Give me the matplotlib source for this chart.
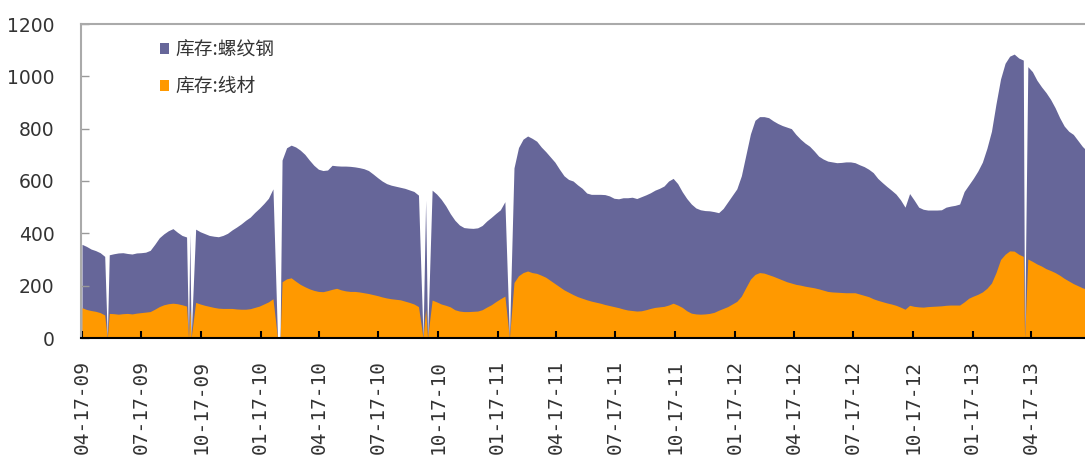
import numpy as np
import pandas as pd
import matplotlib
matplotlib.use("Agg")
import matplotlib.pyplot as plt
import matplotlib.dates as mdates
from matplotlib.patches import Patch

# 周度库存 (万吨), 从 2009-04-17 起每周五
rebar = [358, 350, 340, 334, 326, 312, 318, 322, 325, 326,
         323, 321, 325, 326, 328, 335, 358, 383, 398, 410,
         418, 404, 392, 386, 0, 416, 406, 399, 392, 389,
         387, 392, 400, 413, 424, 436, 450, 462, 480, 496,
         514, 534, 570, 0, 680, 727, 737, 730, 718, 702,
         680, 660, 645, 640, 642, 660, 658, 657, 657, 656,
         654, 651, 647, 640, 627, 613, 600, 590, 584, 580,
         576, 572, 566, 560, 546, 0, 0, 565, 550, 530,
         505, 475, 450, 432, 422, 420, 419, 421, 430, 447,
         461, 476, 490, 521, 0, 650, 728, 760, 772, 763,
         752, 730, 712, 692, 672, 645, 620, 606, 600, 585,
         572, 554, 549, 549, 549, 548, 543, 534, 532, 536,
         536, 538, 533, 540, 547, 555, 565, 572, 581, 600,
         610, 590, 559, 533, 512, 497, 490, 487, 486, 483,
         479, 495, 520, 545, 570, 620, 700, 780, 832, 846,
         846, 842, 830, 820, 812, 806, 800, 778, 760, 745,
         733, 715, 695, 684, 676, 673, 670, 671, 673, 673,
         670, 662, 655, 645, 632, 610, 594, 579, 565, 550,
         528, 500, 552, 527, 500, 492, 489, 489, 489, 490,
         500, 504, 507, 512, 560, 585, 610, 638, 672, 725,
         790, 895, 990, 1050, 1077, 1085, 1070, 1062, 1037, 1018,
         985, 960, 938, 912, 880, 842, 810, 790, 778, 755,
         732, 715]

wire = [116, 109, 105, 102, 97, 88, 94, 93, 91, 93,
        94, 92, 95, 97, 99, 101, 110, 120, 127, 131,
        133, 131, 127, 122, 0, 136, 130, 125, 121, 117,
        114, 113, 113, 113, 111, 110, 110, 112, 117, 122,
        130, 138, 150, 0, 215, 226, 230, 217, 205, 196,
        188, 182, 178, 177, 181, 186, 190, 184, 180, 178,
        178, 176, 173, 170, 166, 162, 157, 153, 150, 148,
        146, 141, 136, 130, 120, 0, 0, 145, 138, 130,
        125, 119, 108, 103, 101, 101, 102, 103, 108, 118,
        127, 139, 150, 160, 0, 212, 238, 250, 256, 250,
        247, 240, 232, 220, 208, 196, 184, 175, 166, 158,
        152, 146, 141, 137, 133, 128, 124, 120, 116, 111,
        107, 105, 103, 104, 108, 113, 117, 119, 121, 126,
        133, 126, 117, 104, 95, 92, 91, 92, 94, 98,
        106, 113, 120, 130, 140, 160, 193, 225, 243, 250,
        248, 242, 236, 229, 222, 215, 210, 205, 202, 198,
        195, 192, 188, 183, 178, 176, 175, 174, 173, 173,
        173, 168, 163, 158, 150, 144, 139, 134, 130, 125,
        118, 110, 125, 121, 119, 118, 120, 121, 122, 123,
        125, 126, 126, 126, 138, 152, 160, 167, 176, 190,
        210, 250, 300, 320, 333, 332, 320, 312, 302, 293,
        283, 275, 265, 258, 250, 240, 228, 218, 208, 200,
        192, 186]

# 节假日前后的非周五数据
extra_dates = ['2009-05-26', '2009-09-28', '2009-09-30', '2010-02-16', '2010-09-28', '2013-04-07']
extra_rebar = [0, 0, 400, 0, 527, 0]
extra_wire = [0, 0, 110, 0, 110, 0]

tick_dates = pd.date_range('2009-04-01', '2013-04-01', freq='3MS') + pd.Timedelta(days=16)

weekly = pd.DataFrame({'date': pd.date_range('2009-04-17', periods=len(rebar), freq='7D'),
                       'rebar': rebar, 'wire': wire})
extra = pd.DataFrame({'date': pd.to_datetime(extra_dates), 'rebar': extra_rebar, 'wire': extra_wire})
df = pd.concat([weekly, extra]).sort_values('date').reset_index(drop=True)

purple = '#666699'
orange = '#ff9900'

fig = plt.figure(figsize=(10.85, 4.55), dpi=100)
ax = fig.add_axes([81 / 1085, 117 / 455, 1 - 81 / 1085, 314 / 455])

ax.fill_between(df['date'], 0, df['rebar'], color=purple, lw=0)
ax.fill_between(df['date'], 0, df['wire'], color=orange, lw=0)

ax.set_ylim(0, 1200)
ax.set_yticks(range(0, 1201, 200))
ax.set_xlim(pd.Timestamp('2009-04-15 12:00'), pd.Timestamp('2013-07-09'))
ax.set_xticks(tick_dates)
ax.xaxis.set_major_formatter(mdates.DateFormatter('%m-%d-%y'))

for lab in ax.get_xticklabels():
    lab.set_rotation(90)
    lab.set_family('DejaVu Sans Mono')
    lab.set_fontsize(14)
    lab.set_color('#333333')
for lab in ax.get_yticklabels():
    lab.set_fontsize(13.5)
    lab.set_color('#333333')

ax.tick_params(axis='x', direction='in', length=5, width=1.5, color='black', pad=16)
ax.tick_params(axis='y', direction='in', length=6, width=1, color='#999999', pad=19)

ax.spines['right'].set_visible(False)
ax.spines['top'].set_color('#aaaaaa')
ax.spines['top'].set_linewidth(1.5)
ax.spines['left'].set_color('#aaaaaa')
ax.spines['left'].set_linewidth(1.5)
ax.spines['bottom'].set_color('black')
ax.spines['bottom'].set_linewidth(1.5)

handles = [Patch(facecolor=purple, label='库存:螺纹钢'),
           Patch(facecolor=orange, label='库存:线材')]
ax.legend(handles=handles, loc='upper left', bbox_to_anchor=(0.062, 1.005), frameon=False,
          handlelength=0.5, handleheight=0.55, handletextpad=0.3, labelspacing=0.85,
          prop={'family': ['Noto Sans CJK SC', 'DejaVu Sans'], 'size': 13.5},
          labelcolor='#333333')

fig.savefig('out.png', dpi=100)
